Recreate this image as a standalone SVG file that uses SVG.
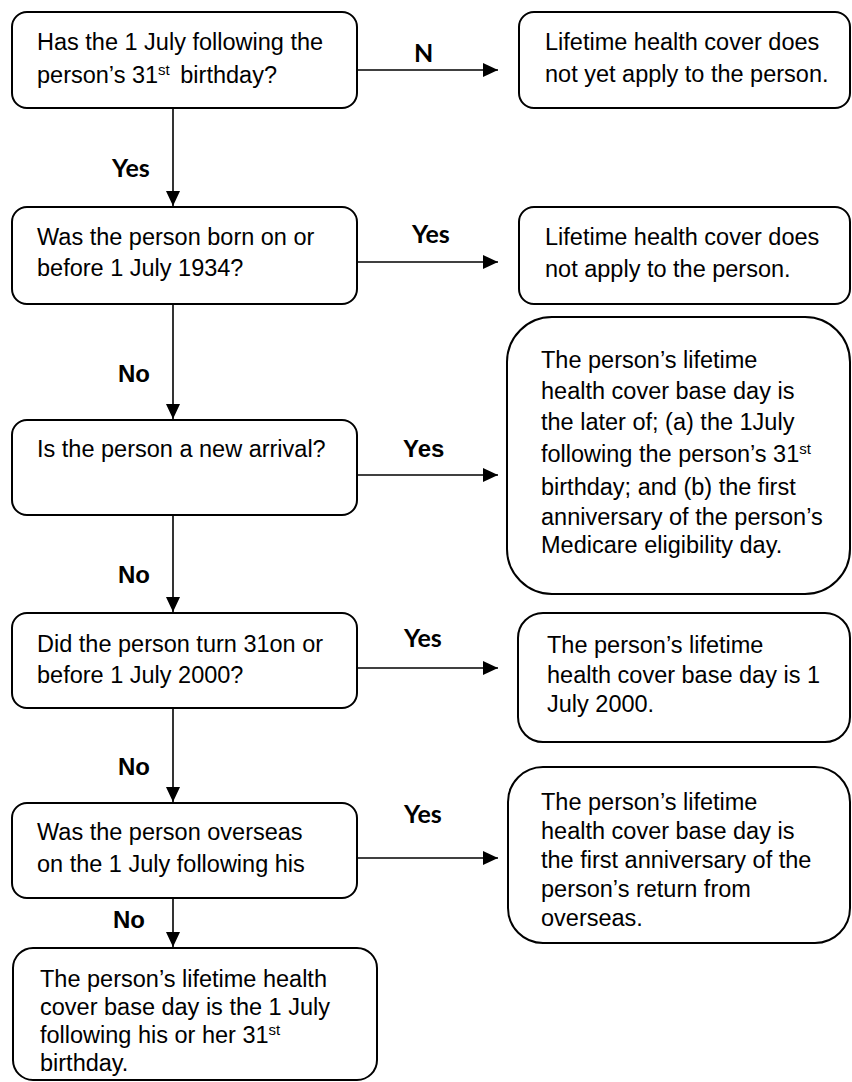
<svg xmlns="http://www.w3.org/2000/svg" width="852" height="1082" viewBox="0 0 852 1082">
<style>
.box{fill:#fff;stroke:#000;stroke-width:2}
.t{font-family:"Liberation Sans",Arial,sans-serif;font-size:23.5px;fill:#000}
.sup{font-size:15px}
.lc{font-family:Lato,"Open Sans",sans-serif;font-weight:700;font-size:25px;fill:#000}
.la{font-family:"Liberation Sans",Arial,sans-serif;font-weight:700;font-size:24px;fill:#000}
.c{stroke:#000;stroke-width:1.6;fill:none;marker-end:url(#ah)}
</style>
<defs>
<marker id="ah" markerWidth="16" markerHeight="14" refX="15" refY="7" orient="auto" markerUnits="userSpaceOnUse">
<path d="M0,0 L15,7 L0,14 Z" fill="#000"/>
</marker>
</defs>
<rect width="852" height="1082" fill="#fff"/>
<g id="connectors">
<line class="c" x1="357" y1="70" x2="498" y2="70"/>
<line class="c" x1="357" y1="262" x2="498" y2="262"/>
<line class="c" x1="357" y1="475" x2="498" y2="475"/>
<line class="c" x1="357" y1="668" x2="498" y2="668"/>
<line class="c" x1="357" y1="858" x2="498" y2="858"/>
<line class="c" x1="173" y1="108" x2="173" y2="206"/>
<line class="c" x1="173" y1="304" x2="173" y2="419"/>
<line class="c" x1="173" y1="515" x2="173" y2="612"/>
<line class="c" x1="173" y1="708" x2="173" y2="802"/>
<line class="c" x1="173" y1="898" x2="173" y2="947"/>
<text class="lc" x="414" y="62">N</text>
<text class="lc" x="412" y="243">Yes</text>
<text class="la" x="403" y="457">Yes</text>
<text class="lc" x="404" y="647">Yes</text>
<text class="lc" x="404" y="823">Yes</text>
<text class="lc" x="112" y="177">Yes</text>
<text class="la" x="118" y="382">No</text>
<text class="la" x="118" y="583">No</text>
<text class="la" x="118" y="775">No</text>
<text class="la" x="113" y="928">No</text>
</g>
<g id="q1">
<rect class="box" x="12" y="12" width="345" height="96" rx="15"/>
<text class="t" x="37" y="50">Has the 1 July following the</text>
<text class="t" x="37" y="83">person’s 31<tspan class="sup" dy="-8">st</tspan><tspan dy="8" dx="4"> birthday?</tspan></text>
</g>
<g id="r1">
<rect class="box" x="519" y="12" width="331" height="96" rx="15"/>
<text class="t" x="545" y="50">Lifetime health cover does</text>
<text class="t" x="545" y="82">not yet apply to the person.</text>
</g>
<g id="q2">
<rect class="box" x="12" y="207" width="345" height="97" rx="15"/>
<text class="t" x="37" y="245">Was the person born on or</text>
<text class="t" x="37" y="276">before 1 July 1934?</text>
</g>
<g id="r2">
<rect class="box" x="519" y="207" width="331" height="97" rx="15"/>
<text class="t" x="545" y="245">Lifetime health cover does</text>
<text class="t" x="545" y="277">not apply to the person.</text>
</g>
<g id="q3">
<rect class="box" x="12" y="420" width="345" height="95" rx="15"/>
<text class="t" x="37" y="457">Is the person a new arrival?</text>
</g>
<g id="r3">
<rect class="box" x="507" y="317" width="343" height="277" rx="45"/>
<text class="t" x="541" y="368">The person’s lifetime</text>
<text class="t" x="541" y="399">health cover base day is</text>
<text class="t" x="541" y="430">the later of; (a) the 1July</text>
<text class="t" x="541" y="462">following the person’s 31<tspan class="sup" dy="-8">st</tspan></text>
<text class="t" x="541" y="495">birthday; and (b) the first</text>
<text class="t" x="541" y="525">anniversary of the person’s</text>
<text class="t" x="541" y="553">Medicare eligibility day.</text>
</g>
<g id="q4">
<rect class="box" x="12" y="613" width="345" height="95" rx="15"/>
<text class="t" x="37" y="652">Did the person turn 31on or</text>
<text class="t" x="37" y="683">before 1 July 2000?</text>
</g>
<g id="r4">
<rect class="box" x="518" y="613" width="332" height="129" rx="25"/>
<text class="t" x="547" y="653">The person’s lifetime</text>
<text class="t" x="547" y="683">health cover base day is 1</text>
<text class="t" x="547" y="712">July 2000.</text>
</g>
<g id="q5">
<rect class="box" x="12" y="803" width="345" height="95" rx="15"/>
<text class="t" x="37" y="840">Was the person overseas</text>
<text class="t" x="37" y="872">on the 1 July following his</text>
</g>
<g id="r5">
<rect class="box" x="508" y="767" width="342" height="176" rx="35"/>
<text class="t" x="541" y="810">The person’s lifetime</text>
<text class="t" x="541" y="839">health cover base day is</text>
<text class="t" x="541" y="868">the first anniversary of the</text>
<text class="t" x="541" y="897">person’s return from</text>
<text class="t" x="541" y="926">overseas.</text>
</g>
<g id="end">
<rect class="box" x="13" y="948" width="364" height="132" rx="20"/>
<text class="t" x="40" y="987">The person’s lifetime health</text>
<text class="t" x="40" y="1015">cover base day is the 1 July</text>
<text class="t" x="40" y="1043">following his or her 31<tspan class="sup" dy="-8">st</tspan></text>
<text class="t" x="40" y="1071">birthday.</text>
</g>
</svg>
